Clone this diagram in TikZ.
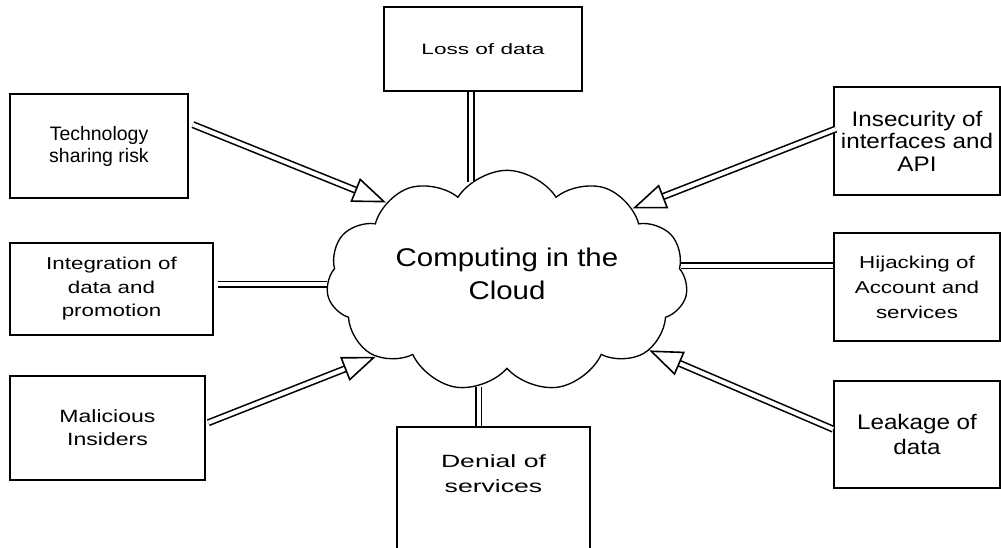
\documentclass[tikz,border=0pt]{standalone}
\usepackage{fontspec}
\setmainfont{Liberation Sans}
\newfontfamily\wideA{Liberation Sans}[FakeStretch=1.15]
\newfontfamily\wideB{Liberation Sans}[FakeStretch=1.3]
\newfontfamily\wideC{Liberation Sans}[FakeStretch=1.5]
\usetikzlibrary{shapes.symbols,arrows.meta}

\begin{document}
\begin{tikzpicture}[x=0.75pt,y=-0.75pt,
    box/.style={draw,line width=1.3pt,rectangle,align=center,inner sep=0pt},
    link/.style={double,double distance=3pt,line width=1.2pt},
    flow/.style={link,-{Triangle[length=25pt,width=19pt,fill=white]}}]
    \clip (0,0) rectangle (1001,547);
    %% centre
    \node[draw,cloud,cloud puffs=11,cloud puff arc=115,cloud ignores aspect,
          line width=1pt,minimum width=271pt,minimum height=166pt,align=center,
          text depth=10.5pt,
          font=\wideA\fontsize{19.2}{24.8}\selectfont] (cloud) at (507,281)
          {Computing in the\\Cloud};
    %% boxes
    \node[box,minimum width=148.5pt,minimum height=63pt,
          font=\wideC\fontsize{11.3}{14}\selectfont] (loss) at (483,49) {Loss of data};
    \node[box,minimum width=133.5pt,minimum height=78pt,
          font=\fontsize{14.6}{16.5}\selectfont] (tech) at (99,146) {Technology\\sharing risk};
    \node[box,minimum width=152pt,minimum height=69pt,
          font=\wideB\fontsize{12.9}{17.6}\selectfont] (integ) at (111.5,289) {Integration of\\data and\\promotion};
    \node[box,minimum width=146pt,minimum height=78pt,
          font=\wideB\fontsize{13.3}{17.3}\selectfont] (malic) at (107.5,428) {Malicious\\Insiders};
    \node[box,minimum width=124.5pt,minimum height=81pt,
          font=\wideA\fontsize{15.8}{16.9}\selectfont] (insec) at (917,141) {Insecurity of\\interfaces and\\API};
    \node[box,minimum width=124.5pt,minimum height=81pt,
          font=\wideB\fontsize{12.9}{18.8}\selectfont] (hijack) at (917,287) {Hijacking of\\Account and\\services};
    \node[box,minimum width=124.5pt,minimum height=80pt,
          font=\wideA\fontsize{15.8}{18.8}\selectfont] (leak) at (917,434.5) {Leakage of\\data};
    \node[box,minimum width=145pt,minimum height=107pt,text depth=38pt,
          font=\wideC\fontsize{13.3}{18.8}\selectfont] (denial) at (493.5,498.5) {Denial of\\services};
    %% plain links
    \draw[link] (cloud.110) -- (cloud.110 |- loss.south);
    \draw[link] (cloud.255) -- (cloud.255 |- denial.north);
    \draw[link] ([xshift=3pt]integ.east |- cloud.181) -- (cloud.181);
    \draw[link] (cloud.5) -- (cloud.5 -| hijack.west);
    %% arrows into the cloud
    \draw[flow] ([xshift=3pt,yshift=16pt]tech.east) -- (cloud.147);
    \draw[flow] ([xshift=2pt,yshift=9pt]insec.west) -- (cloud.30);
    \draw[flow] ([xshift=2pt,yshift=4pt]malic.east) -- (cloud.210);
    \draw[flow] ([yshift=4pt]leak.west) -- (cloud.334);
\end{tikzpicture}
\end{document}
